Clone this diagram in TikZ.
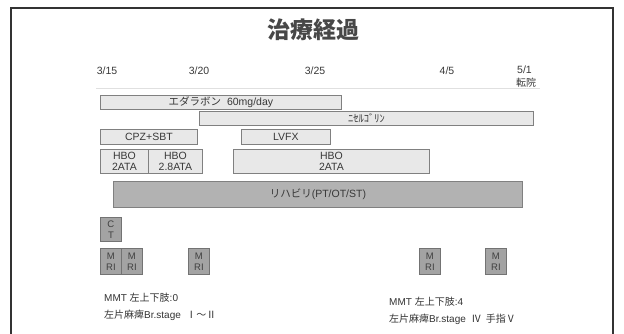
\documentclass[tikz,border=0pt]{standalone}
\usepackage{fontspec}
\setmainfont{Liberation Sans}
\newfontfamily\jp{Noto Sans CJK JP}
\begin{document}
\begin{tikzpicture}[x=1pt,y=-1pt,
  lbl/.style={font=\fontsize{10.5}{11.5}\selectfont, text=black!78, inner sep=0},
  bar/.style={draw=black!50, fill=black!9, line width=0.8pt, inner sep=0, anchor=north west,
    text=black!78, font=\fontsize{10.5}{11}\selectfont, align=center},
  dbar/.style={bar, fill=black!30},
  scan/.style={draw=black!55, fill=black!36, line width=0.8pt, inner sep=0, anchor=north west,
    minimum width=21, text=black!75, font=\fontsize{9.5}{11}\selectfont, align=center},
  note/.style={font=\fontsize{10}{17}\selectfont, text=black!80, inner sep=0, anchor=north west, align=left}
]
\useasboundingbox (0,0) rectangle (624,333);
\draw[black!80, line width=1.8pt] (11,345) -- (11,8) -- (613,8) -- (613,345);

\node[inner sep=0, text=black!72, font=\jp\bfseries\fontsize{23}{26}\selectfont] (title) at (313,30) {治療経過};

\node[lbl] (d315) at (107,71) {3/15};
\node[lbl] (d320) at (199,71) {3/20};
\node[lbl] (d325) at (315,71) {3/25};
\node[lbl] (d45) at (447,71) {4/5};
\node[lbl, anchor=west] (d51) at (517,70) {5/1};
\node[lbl, anchor=west, font=\jp\fontsize{10}{11}\selectfont] (tenin) at (516,83) {転院};
\draw[black!12, line width=0.8pt] (96,88) -- (540,88);

\node[bar, minimum width=241, minimum height=14] (eda) at (100,95) {{\jp エダラボン}\ \ 60mg/day};
\node[bar, minimum width=334, minimum height=14, font=\jp\fontsize{10.5}{11}\selectfont] (nic) at (199,111) {ﾆｾﾙｺﾞﾘﾝ};
\node[bar, minimum width=97, minimum height=15] (cpz) at (100,129) {CPZ+SBT};
\node[bar, minimum width=89, minimum height=15] (lvfx) at (241,129) {LVFX};
\node[bar, minimum width=48, minimum height=24] (hbo1) at (100,149) {HBO\\2ATA};
\node[bar, minimum width=54, minimum height=24] (hbo2) at (148,149) {HBO\\2.8ATA};
\node[bar, minimum width=196, minimum height=24] (hbo3) at (233,149) {HBO\\2ATA};
\node[dbar, minimum width=409, minimum height=26] (reha) at (113,181) {{\jp リハビリ}(PT/OT/ST)};

\node[scan, minimum height=24] (ct) at (100,217) {C\\T};
\node[scan, minimum height=26] (mri1) at (100,248) {M\\RI};
\node[scan, minimum height=26] (mri2) at (121,248) {M\\RI};
\node[scan, minimum height=26] (mri3) at (188,248) {M\\RI};
\node[scan, minimum height=26] (mri4) at (419,248) {M\\RI};
\node[scan, minimum height=26] (mri5) at (485,248) {M\\RI};

\node[note] (mmt1) at (104,293) {MMT {\jp 左上下肢}:0\\{\jp 左片麻痺}Br.stage\ \ {\jp Ⅰ～Ⅱ}};
\node[note] (mmt2) at (389,297) {MMT {\jp 左上下肢}:4\\{\jp 左片麻痺}Br.stage\ \ {\jp Ⅳ\ \ 手指Ⅴ}};
\end{tikzpicture}
\end{document}
